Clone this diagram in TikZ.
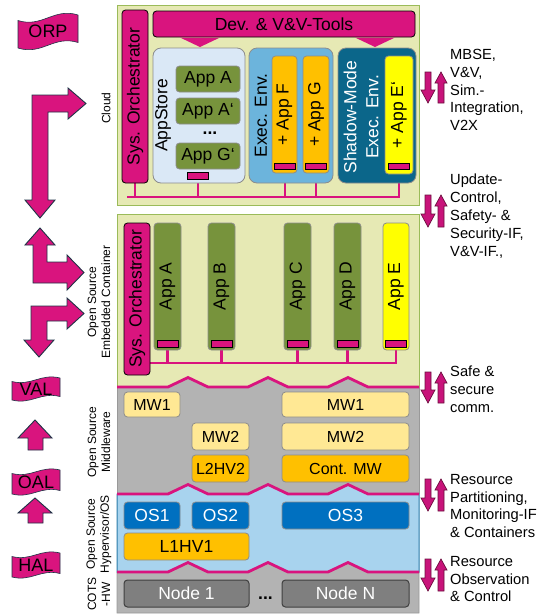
\documentclass[tikz,border=0pt]{standalone}
\usepackage{fontspec}
\setmainfont{Liberation Sans}
\usetikzlibrary{calc}
\pgfdeclarelayer{back}
\pgfdeclarelayer{wires}
\pgfsetlayers{back,wires,main}

\definecolor{pinkc}{HTML}{D9147E}
\definecolor{olive}{HTML}{E6E9B4}
\definecolor{oliveedge}{HTML}{9BBB59}
\definecolor{appgreen}{HTML}{77933C}
\definecolor{appedge}{HTML}{8C8C8C}
\definecolor{orangec}{HTML}{FFC000}
\definecolor{yellowc}{HTML}{FFFF00}
\definecolor{storeblue}{HTML}{DAE8F6}
\definecolor{execblue}{HTML}{6CB4DC}
\definecolor{shadowblue}{HTML}{0B668A}
\definecolor{mwgray}{HTML}{B3B3B3}
\definecolor{mwyellow}{HTML}{FFE894}
\definecolor{osblue}{HTML}{0070C0}
\definecolor{hvblue}{HTML}{A8D3EE}
\definecolor{hvedge}{HTML}{2A7AA8}
\definecolor{nodegray}{HTML}{7F7F7F}
\definecolor{arrowedge}{HTML}{1E3446}
\definecolor{magentac}{HTML}{C8137A}
\definecolor{magentaedge}{HTML}{6B0F3E}

\tikzset{
  txt/.style={font=\fontsize{17.5}{21}\selectfont},
  sz/.style 2 args={minimum width=#1pt, minimum height=#2pt},
  box/.style={rectangle, rounded corners=3.5pt, draw=appedge, line width=0.8pt, inner sep=0pt, txt},
  orch/.style={box, fill=pinkc, draw=black, rotate=90},
  tool/.style={box, fill=pinkc, draw=black},
  envbox/.style={box, rounded corners=8pt},
  gapp/.style={box, fill=appgreen},
  oapp/.style={box, fill=orangec},
  yapp/.style={box, fill=yellowc},
  mw/.style={box, fill=mwyellow, font=\fontsize{16}{19}\selectfont},
  mwo/.style={box, fill=orangec, font=\fontsize{16}{19}\selectfont},
  os/.style={box, fill=osblue, text=white},
  hw/.style={box, fill=nodegray, draw=black!75, text=white, line width=1pt},
  port/.style={rectangle, fill=pinkc, draw=black, line width=0.6pt, inner sep=0pt, minimum width=21pt, minimum height=6.5pt},
  bus/.style={draw=pinkc, line width=2.6pt},
  seam/.style={draw=pinkc, line width=2.8pt, line join=miter},
  region/.style={rectangle, inner sep=0pt, line width=1pt},
  side/.style={rotate=90, align=center, inner sep=0pt, font=\fontsize{12}{14}\selectfont},
  note/.style={anchor=north west, align=left, inner sep=0pt, font=\fontsize{14.7}{17.8}\selectfont},
  blockarrow/.style={fill=pinkc, draw=arrowedge, line width=0.9pt, line join=miter},
  twin/.style={fill=magentac, draw=magentaedge, line width=0.7pt, line join=miter},
  banner/.style={fill=pinkc, draw=arrowedge, line width=0.6pt},
  bannertext/.style={inner sep=0pt, font=\fontsize{18}{21}\selectfont},
}

% zig-zag seam between two stacked layers, base line at y = #1
\newcommand\zigseam[1]{(117,#1) -- (168,#1) -- (188,{#1-9.5}) -- (208,#1) -- (248,#1) -- (268,{#1-9.5}) -- (288,#1) -- (328,#1) -- (348,{#1-9.5}) -- (368,#1) -- (419,#1)}

% wavy banner: name, x0, y0, x1, y1, wave amplitude, text
\newcommand\wavyflag[7]{%
  \filldraw[banner] (#2,{#3+#6}) .. controls ({#2+0.4*(#4-#2)},{#3+2.4*#6}) and ({#2+0.6*(#4-#2)},{#3-1.4*#6}) .. (#4,#3)
    -- (#4,{#5-#6}) .. controls ({#2+0.6*(#4-#2)},{#5-2.4*#6}) and ({#2+0.4*(#4-#2)},{#5+1.4*#6}) .. (#2,#5) -- cycle;
  \node[bannertext] (#1) at ({(#2+#4)/2},{(#3+#5)/2}) {#7};}

% pair of opposed thin arrows: top y, bottom y
\newcommand\twinarrows[2]{%
  \filldraw[twin] (425,#1) -- (431,#1) -- (431,{#2-13}) -- (435,{#2-13}) -- (428,#2) -- (421,{#2-13}) -- (425,{#2-13}) -- cycle;
  \filldraw[twin] (441,#1) -- (447,{#1+11}) -- (444,{#1+11}) -- (444,#2) -- (438,#2) -- (438,{#1+11}) -- (435,{#1+11}) -- cycle;}

\begin{document}
\begin{tikzpicture}[x=1pt,y=-1pt]
\useasboundingbox (0,0) rectangle (544,614);

% ---------- layer backgrounds ----------
\begin{pgfonlayer}{back}
  \node[region, fill=olive, draw=oliveedge, sz={302}{200}] (cloud) at (268,105) {};
  \node[region, fill=olive, draw=oliveedge, sz={302}{173}] (embedded) at (268,300.5) {};
  \fill[mwgray] \zigseam{387} -- (419,494) -- (117,494) -- cycle;
  \draw[black!40, line width=0.8pt] (117,387) -- (117,494) (419,387) -- (419,494);
  \filldraw[fill=hvblue, draw=hvedge, line width=1pt] \zigseam{494} -- (419,572) -- (117,572) -- cycle;
  \filldraw[fill=mwgray, draw=black!40, line width=0.8pt] \zigseam{572} -- (419,613) -- (117,613) -- cycle;
\end{pgfonlayer}

% ---------- cloud ----------
\node[orch, sz={173}{26}] (orchC) at (135,96.5) {Sys. Orchestrator};
\node[tool, sz={262}{26}] (tools) at (284,24) {Dev. \& V\&V-Tools};
\fill[pinkc] (180,37.5) -- (220,37.5) -- (200,47) -- cycle;
\fill[pinkc] (355,37.5) -- (395,37.5) -- (375,47) -- cycle;

\node[envbox, fill=storeblue, sz={92}{135}] (store) at (199,115.5) {};
\node[txt, rotate=90, inner sep=0pt] (storelbl) at (163,115.5) {AppStore};
\node[gapp, sz={64}{26}] (appA) at (208,79) {App A};
\node[gapp, sz={64}{26}] (appA2) at (208,111) {App A‘};
\node[txt, inner sep=0pt] (storedots) at (210,133) {\textbf{...}};
\node[gapp, sz={64}{26}] (appG2) at (208,156) {App G‘};
\node[port] (pStore) at (198,176) {};

\node[envbox, fill=execblue, sz={84}{135}] (exec) at (291,115.5) {};
\node[txt, rotate=90, inner sep=0pt] (execlbl) at (261,115.5) {Exec. Env.};
\node[oapp, rotate=90, sz={117}{25}] (appF) at (284.5,114.5) {+ App F};
\node[oapp, rotate=90, sz={117}{26}] (appG) at (316,114.5) {+ App G};
\node[port] (pF) at (285,166.5) {};
\node[port] (pG) at (316,166.5) {};

\node[envbox, fill=shadowblue, sz={78}{135}] (shadow) at (377,115.5) {};
\node[rotate=90, align=center, text=white, inner sep=0pt, font=\fontsize{17.5}{22}\selectfont] (shadowlbl) at (361,117) {Shadow-Mode\\Exec. Env.};
\node[yapp, rotate=90, sz={118}{28}] (appE2) at (399,115) {+ App E‘};
\node[port] (pE2) at (399,166.5) {};

\coordinate (cbusL) at (127,197);
\begin{pgfonlayer}{wires}
  \draw[bus] (pE2.center) |- (cbusL);
  \draw[bus] (orchC.center) -- (orchC.center |- cbusL);
  \draw[bus] (pStore.center) -- (pStore.center |- cbusL);
  \draw[bus] (pF.center) -- (pF.center |- cbusL);
  \draw[bus] (pG.center) -- (pG.center |- cbusL);
\end{pgfonlayer}

% ---------- embedded container ----------
\node[orch, sz={152}{26}] (orchE) at (137,299) {Sys. Orchestrator};
\node[gapp, rotate=90, sz={127}{27}] (eA) at (167.5,286.5) {App A};
\node[gapp, rotate=90, sz={127}{27}] (eB) at (221.5,286.5) {App B};
\node[gapp, rotate=90, sz={127}{27}] (eC) at (297.5,286.5) {App C};
\node[gapp, rotate=90, sz={127}{27}] (eD) at (347.5,286.5) {App D};
\node[yapp, rotate=90, sz={127}{26}] (eE) at (396,286.5) {App E};
\node[port] (pA) at (167.5,344) {};
\node[port] (pB) at (221.5,344) {};
\node[port] (pC) at (297.5,344) {};
\node[port] (pD) at (347.5,344) {};
\node[port] (pE) at (396,344) {};

\coordinate (ebusL) at (150,363);
\begin{pgfonlayer}{wires}
  \draw[bus] (pE.center) |- (ebusL);
  \draw[bus] (pA.center) -- (pA.center |- ebusL);
  \draw[bus] (pB.center) -- (pB.center |- ebusL);
  \draw[bus] (pC.center) -- (pC.center |- ebusL);
  \draw[bus] (pD.center) -- (pD.center |- ebusL);
  \draw[seam] \zigseam{387};
  \draw[seam] \zigseam{494};
  \draw[seam] \zigseam{572};
\end{pgfonlayer}

% ---------- middleware ----------
\node[mw, sz={56}{25}] (mw1a) at (152,404.5) {MW1};
\node[mw, sz={127}{25}] (mw1b) at (345.5,404.5) {MW1};
\node[mw, sz={57}{27}] (mw2a) at (220.5,436.5) {MW2};
\node[mw, sz={127}{27}] (mw2b) at (345.5,436.5) {MW2};
\node[mwo, sz={57}{27}] (l2hv) at (220.5,468.5) {L2HV2};
\node[mwo, sz={127}{27}] (contmw) at (345.5,468.5) {Cont. MW};

% ---------- hypervisor / OS ----------
\node[os, sz={56}{27}] (os1) at (152,515.5) {OS1};
\node[os, sz={57}{27}] (os2) at (220.5,515.5) {OS2};
\node[os, sz={127}{27}] (os3) at (345.5,515.5) {OS3};
\node[oapp, sz={125}{27}] (l1hv) at (186.5,546.5) {L1HV1};

% ---------- hardware ----------
\node[hw, sz={125}{27}] (node1) at (186.5,593.5) {Node 1};
\node[hw, sz={127}{27}] (nodeN) at (345.5,593.5) {Node N};
\node[txt, inner sep=0pt] (hwdots) at (265.5,598) {\textbf{...}};

% ---------- layer labels ----------
\node[side] (lblCloud) at (106,108) {Cloud};
\node[side] (lblEmb) at (99,302) {Open Source\\Embedded Container};
\node[side] (lblMw) at (99,442) {Open Source\\Middleware};
\node[side] (lblHv) at (99,534) {Open Source\\Hypervisor/OS};
\node[side] (lblHw) at (99,594) {COTS\\-HW};

% ---------- left: banners and block arrows ----------
\wavyflag{orp}{18}{15}{78}{48}{5.5}{ORP}
\wavyflag{val}{12}{378}{60}{400}{3.5}{VAL}
\wavyflag{oal}{12}{470}{60}{494}{3.5}{OAL}
\wavyflag{hal}{12}{553}{60}{577}{3.5}{HAL}

\filldraw[blockarrow] (32,95) -- (68,95) -- (68,88) -- (86,103.5) -- (68,119) -- (68,112) -- (48,112) -- (48,200) -- (55,200) -- (40,218) -- (25,200) -- (32,200) -- cycle;
\filldraw[blockarrow] (40,228) -- (55,245) -- (47,245) -- (47,262) -- (67,262) -- (67,255) -- (84,272.5) -- (67,290) -- (67,283) -- (33,283) -- (33,245) -- (25,245) -- cycle;
\filldraw[blockarrow] (31,306) -- (67,306) -- (67,298) -- (84,313.5) -- (67,329) -- (67,321) -- (47,321) -- (47,340) -- (54,340) -- (39,357) -- (24,340) -- (31,340) -- cycle;
\filldraw[blockarrow] (35,420) -- (52,438) -- (43,438) -- (43,450) -- (28,450) -- (28,438) -- (18,438) -- cycle;
\filldraw[blockarrow] (35,498) -- (52,513) -- (43,513) -- (43,523) -- (28,523) -- (28,513) -- (18,513) -- cycle;

% ---------- right: interfaces ----------
\twinarrows{72}{103}
\twinarrows{195}{227}
\twinarrows{372}{403}
\twinarrows{479}{511}
\twinarrows{559}{591}

\node[note] (n1) at (450,49) {MBSE,\\V\&V,\\Sim.-\\Integration,\\V2X};
\node[note] (n2) at (450,174) {Update-\\Control,\\Safety- \&\\Security-IF,\\V\&V-IF.,};
\node[note] (n3) at (450,366) {Safe \&\\secure\\comm.};
\node[note] (n4) at (450,474) {Resource\\Partitioning,\\Monitoring-IF\\\& Containers};
\node[note] (n5) at (450,556) {Resource\\Observation\\\& Control};
\end{tikzpicture}
\end{document}
